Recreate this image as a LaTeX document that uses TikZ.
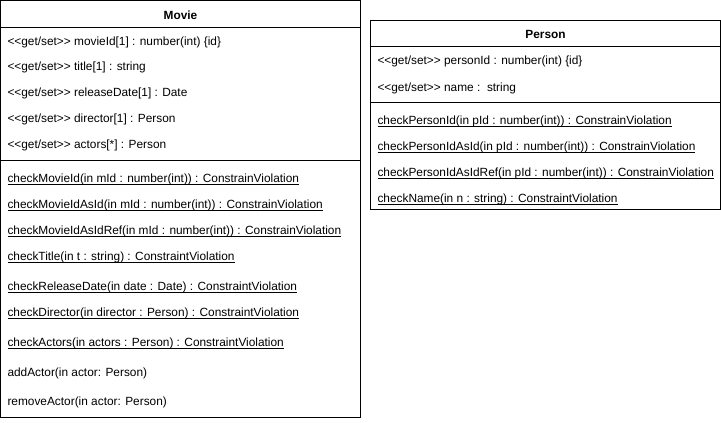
\documentclass[tikz,border=0pt]{standalone}
\usepackage{fontspec}
\setmainfont{Liberation Sans}
\usetikzlibrary{positioning}
\newcommand{\uln}[1]{\underline{\smash{#1}\vphantom{A}}}
\newcommand{\getset}{<{}<get/set>{}>}

\begin{document}
\begin{tikzpicture}[x=0.75pt,y=-0.75pt,line width=0.75pt,
  classbox/.style={draw,fill=white},
  cname/.style={inner sep=0pt,font=\fontsize{8.9}{11}\selectfont\bfseries},
  member/.style={anchor=west,inner sep=0pt,font=\fontsize{8.9}{11}\selectfont}]
  \useasboundingbox (0,0) rectangle (721,422);

  % Movie
  \draw[classbox] (0.5,0.5) rectangle (360.5,417.5);
  \draw (0.5,27) -- (360.5,27);
  \draw (0.5,160) -- (360.5,160);
  \node[cname] (Movie) at (180.5,15) {Movie};
  \node[member] (mId)   at (7,42.5)  {\getset{} movieId[1] : number(int) \{id\}};
  \node[member] (mTit)  at (7,67.5)  {\getset{} title[1] : string};
  \node[member] (mRel)  at (7,93.5)  {\getset{} releaseDate[1] : Date};
  \node[member] (mDir)  at (7,119.5) {\getset{} director[1] : Person};
  \node[member] (mAct)  at (7,145.5) {\getset{} actors[*] : Person};
  \node[member] (cmId)   at (7,179.5) {\uln{checkMovieId(in mId : number(int)) : ConstrainViolation}};
  \node[member] (cmAsId) at (7,205.5) {\uln{checkMovieIdAsId(in mId : number(int)) : ConstrainViolation}};
  \node[member] (cmRef)  at (7,231.5) {\uln{checkMovieIdAsIdRef(in mId : number(int)) : ConstrainViolation}};
  \node[member] (cmTit)  at (7,257.5) {\uln{checkTitle(in t : string) : ConstraintViolation}};
  \node[member] (cmRel)  at (7,287.5) {\uln{checkReleaseDate(in date : Date) : ConstraintViolation}};
  \node[member] (cmDir)  at (7,313.5) {\uln{checkDirector(in director : Person) : ConstraintViolation}};
  \node[member] (cmAct)  at (7,343.5) {\uln{checkActors(in actors : Person) : ConstraintViolation}};
  \node[member] (addA)   at (7,373) {addActor(in actor: Person)};
  \node[member] (remA)   at (7,402.5) {removeActor(in actor: Person)};

  % Person
  \draw[classbox] (370.5,20.5) rectangle (720.5,209.5);
  \draw (370.5,46) -- (720.5,46);
  \draw (370.5,102.5) -- (720.5,102.5);
  \node[cname] (Person) at (545.5,34.5) {Person};
  \node[member] (pId)   at (377,61) {\getset{} personId : number(int) \{id\}};
  \node[member] (pName) at (377,88) {\getset{} name :\ \ string};
  \node[member] (cpId)   at (377,121.5) {\uln{checkPersonId(in pId : number(int)) : ConstrainViolation}};
  \node[member] (cpAsId) at (377,147.5) {\uln{checkPersonIdAsId(in pId : number(int)) : ConstrainViolation}};
  \node[member] (cpRef)  at (377,173.5) {\uln{checkPersonIdAsIdRef(in pId : number(int)) : ConstrainViolation}};
  \node[member] (cpName) at (377,199.5) {\uln{checkName(in n : string) : ConstraintViolation}};
\end{tikzpicture}
\end{document}
